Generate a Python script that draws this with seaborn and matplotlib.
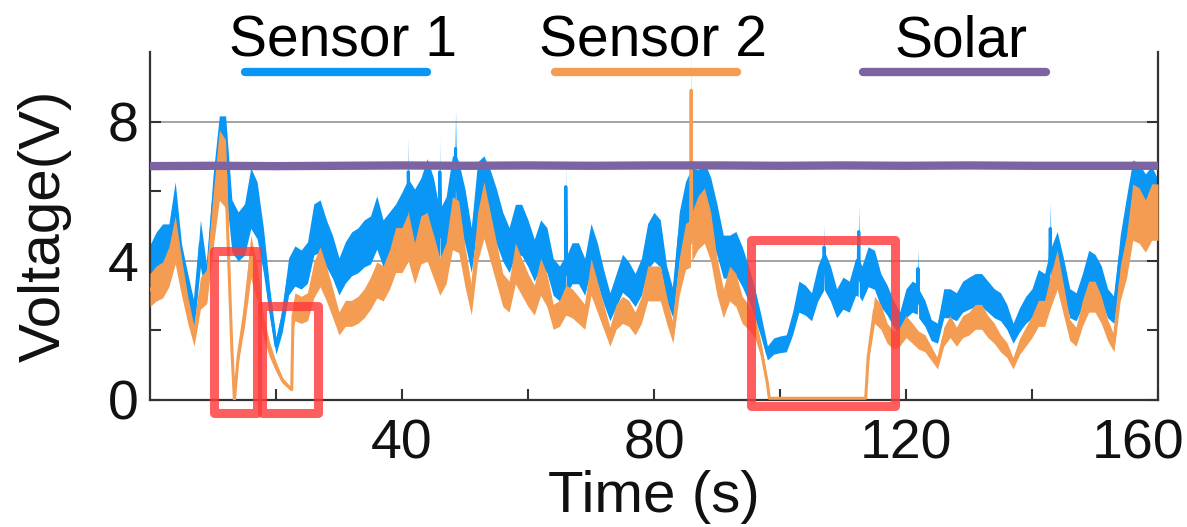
import numpy as np
import pandas as pd
import matplotlib
matplotlib.use("Agg")
import matplotlib.pyplot as plt
import matplotlib.transforms as mtransforms
from matplotlib.patches import Rectangle
from matplotlib.ticker import FixedLocator
import seaborn as sns

# ---- values (time in s, voltage in V) ----
# sensor 1, one reading per second from 0 to 160 s
s1_volt = [3.88, 4.2, 4.4, 4.4, 5.45, 3.9, 3.15, 2.45, 4.5, 3.35,
           5.6, 7.1, 7.1, 5.0, 4.7, 4.9, 5.8, 5.45, 4.3, 2.8,
           1.55, 2.3, 3.55, 3.85, 3.75, 3.95, 4.9, 5.0, 4.5, 4.1,
           3.55, 3.95, 4.2, 4.3, 4.5, 4.6, 5.1, 4.5, 4.7, 4.9,
           5.2, 5.55, 5.27, 5.55, 6.03, 5.55, 4.69, 5.08, 6.1, 5.95,
           5.27, 4.31, 5.95, 6.1, 5.75, 5.27, 4.69, 4.31, 4.89, 4.89,
           4.5, 4.02, 4.5, 4.31, 3.54, 3.35, 3.74, 3.93, 3.93, 3.54,
           4.41, 3.93, 3.26, 2.68, 3.16, 3.64, 3.45, 3.16, 3.54, 4.41,
           4.69, 4.5, 3.35, 2.78, 4.69, 5.46, 5.8, 5.75, 5.95, 5.56,
           4.89, 4.12, 4.12, 4.21, 3.83, 3.35, 2.78, 2.11, 1.35, 1.55,
           1.6, 1.63, 2.2, 2.97, 2.87, 2.68, 3.35, 3.74, 3.35, 2.78,
           3.07, 2.97, 3.54, 3.35, 3.83, 3.74, 3.16, 2.87, 2.49, 2.2,
           2.78, 2.97, 2.78, 2.49, 2.01, 1.92, 2.78, 2.78, 2.68, 2.97,
           3.07, 3.16, 3.16, 2.97, 2.78, 2.68, 2.39, 1.92, 2.3, 2.59,
           2.78, 3.26, 3.16, 3.93, 4.21, 3.54, 2.78, 2.68, 3.16, 3.74,
           3.64, 3.35, 2.78, 2.59, 4.12, 5.08, 6.0, 5.9, 5.65, 5.85,
           5.5]
# short spikes of sensor 1 between the whole seconds
s1_spike_t = [40.9, 41.0, 41.1, 45.9, 46.0, 46.1, 48.4, 48.5, 48.6,
              65.9, 66.0, 66.1, 106.9, 107.0, 107.1, 112.4, 112.5, 112.6,
              121.8, 121.9, 122.0, 142.8, 142.9, 143.0]
s1_spike_v = [5.5, 6.56, 5.5, 4.8, 6.56, 4.8, 6.1, 7.23, 6.1,
              3.6, 6.13, 3.6, 3.7, 4.4, 3.7, 3.5, 4.84, 3.5,
              2.9, 3.78, 2.9, 3.7, 4.93, 3.8]

# sensor 2, one reading per second from 0 to 160 s
s2_volt = [3.16, 3.35, 3.45, 3.83, 4.6, 3.54, 2.59, 1.82, 3.07, 3.26,
           5.1, 6.75, 6.5, 1.44, 1.25, 2.49, 4.12, 3.35, 2.1, 1.44,
           0.96, 0.57, 0.38, 2.68, 2.59, 2.68, 3.45, 3.83, 3.35, 2.78,
           2.2, 2.49, 2.49, 2.59, 2.78, 3.07, 3.45, 3.35, 3.74, 4.31,
           4.31, 4.69, 3.93, 4.6, 4.69, 4.12, 3.54, 3.93, 5.08, 4.98,
           3.83, 2.87, 4.69, 5.46, 4.69, 3.93, 3.16, 2.97, 3.93, 3.54,
           3.16, 2.87, 3.54, 3.16, 2.39, 2.49, 2.87, 2.78, 2.59, 2.39,
           3.54, 2.97, 2.39, 1.82, 2.39, 2.59, 2.49, 2.2, 2.59, 3.35,
           3.35, 3.35, 2.59, 1.92, 3.54, 4.41, 4.69, 5.1, 5.3, 4.69,
           3.54, 2.78, 3.35, 3.16, 2.59, 2.39, 2.11, 1.44, 0.48, 0.05,
           0.05, 0.05, 0.05, 0.05, 0.05, 0.05, 0.05, 0.05, 0.05, 0.05,
           0.05, 0.05, 0.05, 0.05, 1.25, 2.59, 2.39, 1.92, 1.72, 1.82,
           2.11, 1.92, 1.72, 1.63, 1.34, 1.05, 1.82, 2.11, 1.82, 2.11,
           2.2, 2.39, 2.39, 2.11, 1.92, 1.63, 1.44, 1.05, 1.53, 1.82,
           2.11, 2.49, 2.49, 3.16, 3.74, 2.87, 2.01, 1.82, 2.49, 2.97,
           2.97, 2.59, 2.01, 1.63, 3.35, 4.12, 5.4, 5.3, 5.0, 5.4,
           5.4]
# sharp drops / jumps / spike of sensor 2 between the whole seconds
s2_extra_t = [13.4, 22.5, 22.7, 85.8, 85.9, 86.0, 98.3, 113.6]
s2_extra_v = [0.0, 0.3, 2.4, 4.5, 8.9, 4.6, 0.05, 0.05]

# solar panel, every 10 s
solar_t = [0, 10, 20, 30, 40, 50, 60, 70, 80, 90, 100, 110, 120, 130, 140, 150, 160]
solar_v = [6.72, 6.73, 6.72, 6.73, 6.74, 6.73, 6.74, 6.73, 6.74, 6.74,
           6.73, 6.74, 6.73, 6.74, 6.73, 6.73, 6.73]

# red highlight boxes: (t_start, t_end, v_low, v_high)
boxes = [(10.1, 17.0, -0.37, 4.28), (17.8, 26.7, -0.37, 2.70), (95.4, 118.2, -0.16, 4.61)]

legend_names = ["Sensor 1", "Sensor 2", "Solar"]
x_major = [40, 80, 120, 160]
x_minor = [20, 60, 100, 140]
y_major = [0, 4, 8]
y_minor = [2, 6]

c_s1 = "#0a96f5"
c_s2 = "#f39c52"
c_solar = "#7b64a1"
c_box = "#ff3a3a"
c_text = "#111111"

# ---- tables ----
seconds = list(range(len(s1_volt)))
df1 = pd.DataFrame({"t": seconds + s1_spike_t, "v": s1_volt + s1_spike_v}).sort_values("t")
df2 = pd.DataFrame({"t": seconds + s2_extra_t, "v": s2_volt + s2_extra_v}).sort_values("t")
dfs = pd.DataFrame({"t": solar_t, "v": solar_v})

sns.set_theme(style="white")
plt.rcParams["font.family"] = ["Liberation Sans", "DejaVu Sans"]

fig = plt.figure(figsize=(11.87, 5.27), dpi=100)
ax = fig.add_axes([150 / 1187, 1 - 400 / 527, 1008 / 1187, 348 / 527])

# noise band around each sensor trace (grows with the level)
band = 0.15
ax.fill_between(df1.t, df1.v * (1 - band), df1.v * (1 + band), color=c_s1, lw=0, zorder=2)
sns.lineplot(data=df1, x="t", y="v", color=c_s1, lw=2.2, estimator=None, sort=True, ax=ax, zorder=2)
ax.fill_between(df2.t, df2.v * (1 - band), df2.v * (1 + band), color=c_s2, lw=0, zorder=3)
sns.lineplot(data=df2, x="t", y="v", color=c_s2, lw=2.2, estimator=None, sort=True, ax=ax, zorder=3)
sns.lineplot(data=dfs, x="t", y="v", color=c_solar, lw=6, estimator=None, ax=ax, zorder=4)

for t0, t1, v0, v1 in boxes:
    ax.add_patch(Rectangle((t0, v0), t1 - t0, v1 - v0, fill=False, ec=c_box, lw=6.5,
                           alpha=0.82, joinstyle="round", clip_on=False, zorder=6))

ax.set_xlim(0, 160)
ax.set_ylim(0, 10)
ax.xaxis.set_major_locator(FixedLocator(x_major))
ax.xaxis.set_minor_locator(FixedLocator(x_minor))
ax.yaxis.set_major_locator(FixedLocator(y_major))
ax.yaxis.set_minor_locator(FixedLocator(y_minor))
ax.tick_params(which="both", direction="in", length=8, width=1.5, color="#333333",
               right=True, bottom=True, left=True, labelsize=40, labelcolor=c_text)
ax.tick_params(axis="x", pad=13)
ax.tick_params(axis="y", pad=8)
ax.grid(axis="y", which="major", color="#8a8a8a", lw=1.1)
ax.set_axisbelow(True)
for side in ["left", "right", "bottom"]:
    ax.spines[side].set_color("#333333")
    ax.spines[side].set_linewidth(1.6)
ax.spines["top"].set_visible(False)

# last tick label sits left of the edge, as in the reference
lbl = ax.get_xticklabels()[-1]
lbl.set_transform(lbl.get_transform() + mtransforms.ScaledTranslation(-0.2, 0, fig.dpi_scale_trans))

ax.set_xlabel("Time (s)", fontsize=42, labelpad=0, color=c_text)
ax.set_ylabel("Voltage(V)", fontsize=42, labelpad=26, color=c_text)

# legend: name above a short thick line
leg_x = [(0.094, 0.275), (0.402, 0.582), (0.707, 0.889)]
leg_c = [c_s1, c_s2, c_solar]
for (a, b), col, name in zip(leg_x, leg_c, legend_names):
    ax.plot([a, b], [0.9425, 0.9425], transform=ax.transAxes, color=col, lw=6,
            solid_capstyle="round", clip_on=False)
    ax.text((a + b) / 2 + 0.007, 0.986, name, transform=ax.transAxes, fontsize=41,
            ha="center", va="baseline", color="black")

fig.savefig("out.png", dpi=100)
